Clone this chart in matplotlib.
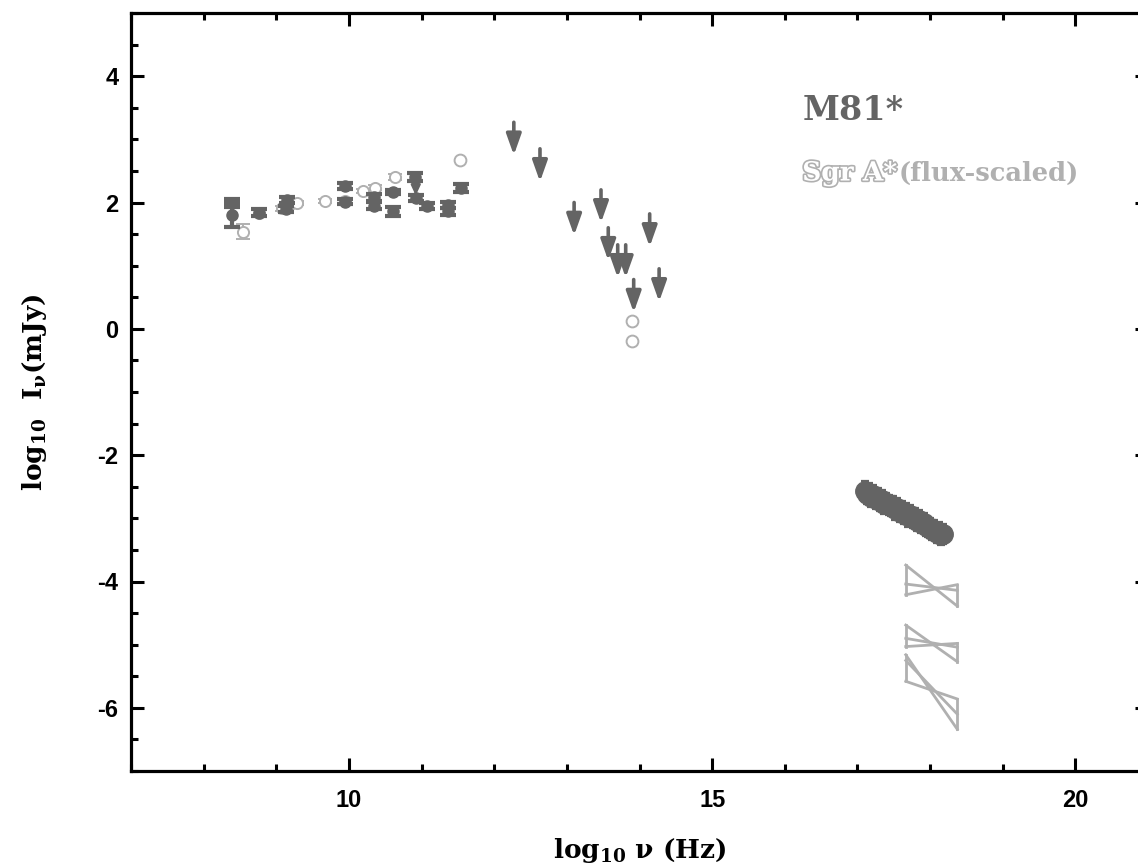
import matplotlib
matplotlib.use("Agg")
import matplotlib.pyplot as plt
import matplotlib.patheffects as pe
from matplotlib.ticker import MultipleLocator, FixedLocator

plt.rcParams["axes.unicode_minus"] = False
plt.rcParams["mathtext.default"] = "regular"

DARK = "#646464"
LIGHT = "#b0b0b0"

# ---- M81* radio points (log nu, log I, err) ----
m81_x = [8.39, 8.39, 8.76, 9.15, 9.14, 9.95, 9.95, 10.35, 10.35, 10.61, 10.61,
         10.91, 10.93, 11.07, 11.36, 11.36, 11.54]
m81_y = [1.99, 1.81, 1.84, 2.04, 1.90, 2.26, 2.01, 2.08, 1.95, 2.16, 1.86,
         2.40, 2.07, 1.94, 1.96, 1.86, 2.23]
m81_err = [0.06, 0.19, 0.05, 0.04, 0.05, 0.05, 0.04, 0.06, 0.06, 0.03, 0.07,
           0.06, 0.05, 0.05, 0.05, 0.05, 0.07]

# ---- Sgr A* (flux-scaled) points ----
sgr_x = [8.54, 8.76, 9.08, 9.19, 9.29, 9.67, 9.95, 10.19, 10.36, 10.64]
sgr_y = [1.54, 1.84, 1.91, 1.97, 1.99, 2.02, 2.02, 2.18, 2.23, 2.40]
sgr_err = [0.12, 0.06, 0.04, 0.04, 0.03, 0.03, 0.04, 0.03, 0.04, 0.05]
sgr_nx = [11.53, 13.90, 13.90]
sgr_ny = [2.68, 0.13, -0.19]

# ---- M81* upper limits (log nu, log I) ----
ul_x = [12.27, 12.63, 13.10, 13.47, 13.57, 13.70, 13.81, 13.92, 14.14, 14.27]
ul_y = [3.27, 2.85, 2.00, 2.20, 1.60, 1.33, 1.33, 0.78, 1.82, 0.95]
ul_small_x = [10.92]
ul_small_y = [2.33]

# ---- M81* X-ray spectrum ----
xr_x = [17.10, 17.13, 17.16, 17.19, 17.22, 17.25, 17.28, 17.31, 17.34, 17.37,
        17.40, 17.43, 17.46, 17.49, 17.52, 17.55, 17.58, 17.61, 17.64, 17.67,
        17.70, 17.73, 17.76, 17.79, 17.82, 17.85, 17.88, 17.91, 17.94, 17.97,
        18.00, 18.03, 18.06, 18.09, 18.12, 18.15, 18.18]
xr_y = [-2.57, -2.62, -2.60, -2.66, -2.63, -2.70, -2.68, -2.73, -2.71, -2.77,
        -2.76, -2.79, -2.81, -2.80, -2.86, -2.84, -2.90, -2.88, -2.93, -2.92,
        -2.97, -2.95, -3.00, -2.99, -3.04, -3.03, -3.08, -3.07, -3.12, -3.14,
        -3.15, -3.19, -3.18, -3.23, -3.22, -3.27, -3.25]

# ---- Sgr A* X-ray bowties: left/right ends of three power laws ----
bow_x = [17.665, 18.375]
bow_left = [[-3.74, -4.04, -4.21], [-4.69, -4.90, -5.03], [-5.16, -5.25, -5.58]]
bow_right = [[-4.39, -4.14, -4.05], [-5.27, -5.04, -4.98], [-6.34, -6.10, -5.86]]

x_major = [10, 15, 20]
y_major = [-6, -4, -2, 0, 2, 4]

fig = plt.figure(figsize=(11.38, 8.65), dpi=100)
ax = fig.add_axes([131 / 1138, 94 / 865, 1017 / 1138, 758 / 865])
ax.set_xlim(7, 21)
ax.set_ylim(-7, 5)

# radio points
ax.errorbar(sgr_x, sgr_y, yerr=sgr_err, fmt="o", mfc="white", mec=LIGHT, ms=8,
            mew=1.4, ecolor=LIGHT, elinewidth=1.4, capsize=5, capthick=1.4, zorder=3)
ax.plot(sgr_nx, sgr_ny, "o", mfc="white", mec=LIGHT, ms=8.5, mew=1.4, zorder=3)
ax.errorbar(m81_x, m81_y, yerr=m81_err, fmt="o", color=DARK, ms=8,
            ecolor=DARK, elinewidth=3, capsize=5.5, capthick=3, zorder=4)

# upper limits
for x, y in zip(ul_x, ul_y):
    ax.annotate("", xy=(x, y - 0.52), xytext=(x, y),
                arrowprops=dict(arrowstyle="-|>,head_length=0.9,head_width=0.32",
                                color=DARK, lw=2.6, shrinkA=0, shrinkB=0,
                                mutation_scale=14), zorder=4)
for x, y in zip(ul_small_x, ul_small_y):
    ax.annotate("", xy=(x, y - 0.22), xytext=(x, y),
                arrowprops=dict(arrowstyle="-|>,head_length=0.6,head_width=0.28",
                                color=DARK, lw=1.8, shrinkA=0, shrinkB=0,
                                mutation_scale=10), zorder=4)

# X-ray spectrum
ax.errorbar(xr_x, xr_y, yerr=0.16, xerr=0.035, fmt="o", color=DARK, ms=14,
            ecolor=DARK, elinewidth=2.2, capsize=3, capthick=1.6, zorder=4)

# bowties
for L, R in zip(bow_left, bow_right):
    ax.plot([bow_x[0], bow_x[0]], [min(L), max(L)], color=LIGHT, lw=2.0, zorder=3)
    ax.plot([bow_x[1], bow_x[1]], [min(R), max(R)], color=LIGHT, lw=2.0, zorder=3)
    for yl, yr in zip(L, R):
        ax.plot(bow_x, [yl, yr], color=LIGHT, lw=2.0, zorder=3)

# labels
ax.text(0.660, 0.859, "M81*", transform=ax.transAxes, color=DARK,
        fontsize=24, fontweight="bold", family="DejaVu Serif", va="baseline")
t = ax.text(0.660, 0.779, "Sgr A*", transform=ax.transAxes, color="white",
            fontsize=19, fontweight="bold", family="DejaVu Serif", va="baseline")
t.set_path_effects([pe.Stroke(linewidth=2.4, foreground=LIGHT), pe.Normal()])
ax.text(0.755, 0.779, "(flux-scaled)", transform=ax.transAxes, color=LIGHT,
        fontsize=18.5, fontweight="bold", family="DejaVu Serif", va="baseline")

ax.set_xlabel(r"log$_{10}$ ν (Hz)", fontsize=19, fontweight="bold",
              family="DejaVu Serif", labelpad=17)
ax.set_ylabel(r"log$_{10}$  I$_{ν}$(mJy)", fontsize=19, fontweight="bold",
              family="DejaVu Serif", labelpad=35)

# ticks & spines
ax.xaxis.set_major_locator(FixedLocator(x_major))
ax.xaxis.set_minor_locator(MultipleLocator(1))
ax.yaxis.set_major_locator(FixedLocator(y_major))
ax.yaxis.set_minor_locator(MultipleLocator(0.5))
ax.tick_params(which="both", direction="in", top=True, right=True, width=2.2)
ax.tick_params(which="major", length=9.5)
ax.tick_params(which="minor", length=5)
ax.tick_params(axis="x", which="major", pad=13)
ax.tick_params(axis="y", which="major", pad=9)
for lab in ax.get_xticklabels() + ax.get_yticklabels():
    lab.set_fontfamily("Liberation Sans")
    lab.set_fontweight("bold")
    lab.set_fontsize(17)
for s in ax.spines.values():
    s.set_linewidth(2.3)

fig.savefig("out.png", dpi=100)
